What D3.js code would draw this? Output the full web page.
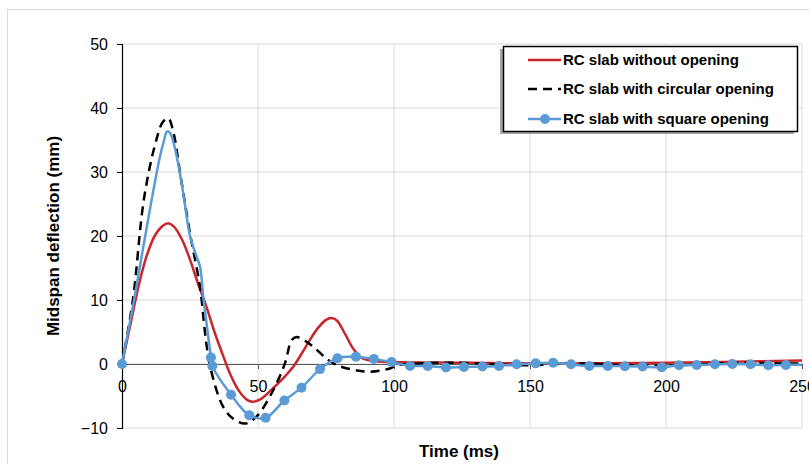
<!DOCTYPE html>
<html>
<head>
<meta charset="utf-8">
<script src="https://cdn.jsdelivr.net/npm/d3@7"></script>
<style>
  body { margin: 0; background: #fff; }
  text { font-family: "Liberation Sans", Arial, sans-serif; }
</style>
</head>
<body id="body">
<script>
// RC slab without opening
const redTime = [0, 3, 6, 9, 12, 15, 17, 19, 22, 25, 28, 31, 34, 37, 40, 43, 46, 48, 51, 54, 57, 60, 63, 66, 69, 72, 75, 77, 79, 82, 85, 88, 92, 100, 125, 150, 175, 200, 225, 250];
const redDefl = [0, 6, 12, 16.8, 20, 21.6, 22, 21.5, 19.5, 16.3, 12.5, 9, 5, 1.5, -1.8, -4.2, -5.6, -5.9, -5.5, -4.4, -3.2, -1.9, -0.4, 1.6, 3.7, 5.6, 6.9, 7.2, 6.8, 4.7, 2.4, 1.0, 0.5, 0.3, 0.2, 0.1, 0.1, 0.2, 0.35, 0.55];

// RC slab with circular opening
const circTime = [0, 4, 8, 12, 15, 17, 19, 21.3, 25, 28.7, 30.5, 32.4, 37.2, 41, 45.5, 49.5, 55.6, 59.9, 62.4, 64.2, 67, 70.3, 77.7, 85, 91.2, 98.5, 101, 110, 120, 130, 140, 150, 160, 170, 180, 190, 200, 210, 220, 230, 240, 250];
const circDefl = [0, 10, 25.6, 34, 37.8, 38.4, 36, 30, 20.4, 12, 5, -0.4, -6.7, -8.6, -9.3, -8.2, -4.1, 0.1, 3.75, 4.2, 3.7, 2.7, 0.1, -0.9, -1.2, -0.7, -0.2, 0.1, 0.2, 0.1, -0.1, -0.2, 0, 0.1, -0.1, -0.2, -0.3, -0.1, 0.1, 0.2, 0.1, 0.1];

// RC slab with square opening (points from t = 32.7 on carry markers)
const sqTime = [0, 2, 4, 6, 8, 10, 12, 14, 15.5, 16.5, 17.5, 19, 21, 23, 25, 27.4, 28.7, 30, 31.5,
  32.7, 33.2, 40.1, 46.8, 52.8, 59.7, 66, 72.8, 79.2, 86, 92.6, 99.1, 105.9, 112.4, 119.1, 125.7, 132.5, 138.6, 145.1, 152.1, 158.5, 165.1, 171.8, 178.6, 184.9, 191.4, 198.4, 204.8, 211.3, 218, 224.4, 231.1, 237.6, 244.1, 250];
const sqDefl = [0, 4.5, 9, 13.8, 18.7, 23.5, 28.2, 32.5, 35, 36.3, 36.2, 34.5, 30.5, 25.3, 20, 16.8, 15.2, 10, 5,
  1.0, -0.3, -4.8, -8.0, -8.4, -5.7, -3.7, -0.8, 0.9, 1.15, 0.8, 0.3, -0.3, -0.3, -0.55, -0.45, -0.4, -0.3, -0.05, 0.1, 0.2, -0.05, -0.3, -0.3, -0.35, -0.4, -0.5, -0.2, -0.15, -0.05, 0, -0.05, -0.2, -0.15, -0.1];

const xTicks = [0, 50, 100, 150, 200, 250];
const yTicks = [-10, 0, 10, 20, 30, 40, 50];
const legendLabels = ["RC slab without opening", "RC slab with circular opening", "RC slab with square opening"];

const width = 809, height = 464;
const svg = d3.select("body").append("svg")
  .attr("width", width)
  .attr("height", height);

// chart area border
svg.append("rect")
  .attr("x", 7.5).attr("y", 9.5)
  .attr("width", 830).attr("height", 480)
  .attr("fill", "#fff")
  .attr("stroke", "#d9d9d9");

const x = d3.scaleLinear().domain([0, 250]).range([122, 802]);
const y = d3.scaleLinear().domain([-10, 50]).range([428, 44]);

// grid
svg.append("g").selectAll("line")
  .data(yTicks)
  .join("line")
  .attr("x1", x(0)).attr("x2", x(250))
  .attr("y1", d => y(d)).attr("y2", d => y(d))
  .attr("stroke", "#d9d9d9");

svg.append("g").selectAll("line")
  .data(xTicks.slice(1))
  .join("line")
  .attr("x1", d => x(d)).attr("x2", d => x(d))
  .attr("y1", y(50)).attr("y2", y(-10))
  .attr("stroke", "#d9d9d9");

// y axis
const yAxis = svg.append("g")
  .attr("transform", `translate(${x(0)},0)`)
  .call(d3.axisLeft(y).tickValues(yTicks).tickSize(5).tickPadding(9).tickFormat(d3.format("d")));
yAxis.select(".domain").attr("stroke", "#000").attr("stroke-width", 1.2);
yAxis.selectAll(".tick line").attr("stroke", "#000");
yAxis.selectAll("text").attr("font-size", 16).attr("fill", "#000")
  .attr("font-family", "Liberation Sans, Arial, sans-serif");

// x axis on zero line
const xAxis = svg.append("g")
  .attr("transform", `translate(0,${y(0)})`)
  .call(d3.axisBottom(x).tickValues(xTicks).tickSize(5).tickPadding(12).tickSizeOuter(0));
xAxis.select(".domain").attr("stroke", "#595959").attr("stroke-width", 1.2);
xAxis.selectAll(".tick line").attr("stroke", "#595959");
xAxis.selectAll("text").attr("font-size", 16).attr("fill", "#000")
  .attr("font-family", "Liberation Sans, Arial, sans-serif");

// titles
svg.append("text")
  .attr("transform", `translate(59,${(y(50) + y(-10)) / 2}) rotate(-90)`)
  .attr("text-anchor", "middle")
  .attr("font-size", 17).attr("font-weight", "bold")
  .text("Midspan deflection (mm)");

svg.append("text")
  .attr("x", 459).attr("y", 457)
  .attr("text-anchor", "middle")
  .attr("font-size", 17).attr("font-weight", "bold")
  .text("Time (ms)");

// series
const line = d3.line()
  .x(d => x(d[0]))
  .y(d => y(d[1]))
  .curve(d3.curveCatmullRom.alpha(0.5));

const redPts = d3.zip(redTime, redDefl);
const circPts = d3.zip(circTime, circDefl);
const sqPts = d3.zip(sqTime, sqDefl);

const plot = svg.append("g");

plot.append("path")
  .datum(redPts)
  .attr("d", line)
  .attr("fill", "none")
  .attr("stroke", "#c8262c")
  .attr("stroke-width", 2.5);

plot.append("path")
  .datum(circPts)
  .attr("d", line)
  .attr("fill", "none")
  .attr("stroke", "#000")
  .attr("stroke-width", 2.5)
  .attr("stroke-dasharray", "9,6");

plot.append("path")
  .datum(sqPts)
  .attr("d", line)
  .attr("fill", "none")
  .attr("stroke", "#5b9bd5")
  .attr("stroke-width", 2.5);

plot.append("g").selectAll("circle")
  .data(sqPts.filter((d, i) => i === 0 || (d[0] >= 32 && d[0] < 248)))
  .join("circle")
  .attr("cx", d => x(d[0]))
  .attr("cy", d => y(d[1]))
  .attr("r", 5)
  .attr("fill", "#5b9bd5");

// legend
const lg = svg.append("g");
lg.append("rect")
  .attr("x", 500).attr("y", 49)
  .attr("width", 294).attr("height", 85)
  .attr("fill", "#a6a6a6");
lg.append("rect")
  .attr("x", 503.5).attr("y", 46.5)
  .attr("width", 294).attr("height", 85)
  .attr("fill", "#fff")
  .attr("stroke", "#000")
  .attr("stroke-width", 1.5);

const rowY = [60, 89, 119];
const styles = [
  { color: "#c8262c", dash: null, marker: false },
  { color: "#000", dash: "9,6", marker: false },
  { color: "#5b9bd5", dash: null, marker: true }
];

legendLabels.forEach((label, i) => {
  lg.append("line")
    .attr("x1", 528).attr("x2", 561)
    .attr("y1", rowY[i]).attr("y2", rowY[i])
    .attr("stroke", styles[i].color)
    .attr("stroke-width", 2.5)
    .attr("stroke-dasharray", styles[i].dash);
  if (styles[i].marker) {
    lg.append("circle")
      .attr("cx", 545).attr("cy", rowY[i]).attr("r", 5)
      .attr("fill", styles[i].color);
  }
  lg.append("text")
    .attr("x", 563).attr("y", rowY[i] + 5)
    .attr("font-size", 15).attr("font-weight", "bold")
    .text(label);
});
</script>
</body>
</html>
